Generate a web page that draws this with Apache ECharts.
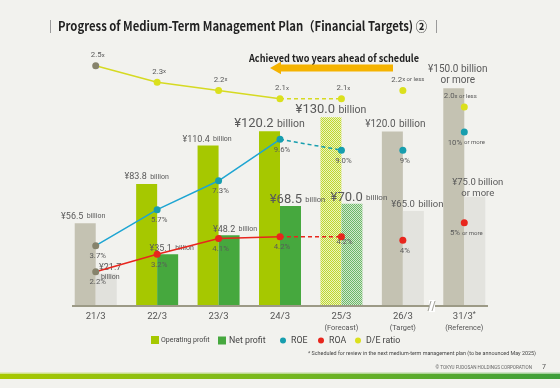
<!DOCTYPE html>
<html><head><meta charset="utf-8">
<script src="https://cdn.jsdelivr.net/npm/echarts@6/dist/echarts.min.js"></script>
<style>html,body{margin:0;padding:0;background:#f2f2ee;}#c{width:560px;height:388px;}</style>
</head><body><div id="c"></div>
<script>
// ---- data ----
const categories = ['21/3', '22/3', '23/3', '24/3', '25/3', '26/3', '31/3'];
const categorySubLabels = ['', '', '', '', '(Forecast)', '(Target)', '(Reference)'];
const operatingProfit = [56.5, 83.8, 110.4, 120.2, 130.0, 120.0, 150.0];
const netProfit = [21.7, 35.1, 48.2, 68.5, 70.0, 65.0, 75.0];
const roe = [3.7, 5.7, 7.3, 9.6, 9.0, 9, 10];
const roa = [2.2, 3.2, 4.1, 4.2, 4.2, 4, 5];
const deRatio = [2.5, 2.3, 2.2, 2.1, 2.1, 2.2, 2.0];
const roeText = ['3.7%', '5.7%', '7.3%', '9.6%', '9.0%', '9%', '10%'];
const roaText = ['2.2%', '3.2%', '4.1%', '4.2%', '4.2%', '4%', '5%'];
const deText = ['2.5', '2.3', '2.2', '2.1', '2.1', '2.2', '2.0'];
const profitSuffix = ['', '', '', '', '', '', 'or more'];
const ratioSuffix = ['', '', '', '', '', '', 'or more'];
const deSuffix = ['', '', '', '', '', 'or less', 'or less'];
const yearType = ['actual0', 'actual', 'actual', 'actual', 'forecast', 'target', 'target'];

// ---- styles ----
const FONT = 'Roboto, "Noto Sans", sans-serif';
const TFONT = '"Noto Sans CJK JP", "Noto Sans", sans-serif';
const LBL = '#5a5a5a';
function checker(c1, c2) {
  const cv = document.createElement('canvas'); cv.width = 2; cv.height = 2;
  const x = cv.getContext('2d'); x.fillStyle = c2; x.fillRect(0, 0, 2, 2);
  x.fillStyle = c1; x.fillRect(0, 0, 1, 1); x.fillRect(1, 1, 1, 1);
  return { image: cv, repeat: 'repeat' };
}
const opColor = { actual0: '#c4c2b2', actual: '#a6c800', forecast: checker('#bfd82e', '#ecf3c0'), target: '#c4c2b2' };
const netColor = { actual0: '#e1e1dc', actual: '#46a83e', forecast: checker('#6cb868', '#d2e8ce'), target: '#e3e3de' };
const opLabelStyle = [
  { big: 9, small: 7, dx: -2, dist: 1 },
  { big: 9, small: 7, dx: 0, dist: 1 },
  { big: 9, small: 7, dx: -1, dist: 0 },
  { big: 13, small: 10.5, dx: 0, dist: 0 },
  { big: 13, small: 10.5, dx: 0, dist: 0 },
  { big: 10, small: 10, dx: 3, dist: 1 },
  { big: 10, small: 10, dx: 4, dist: 2 }
];
const netLabelStyle = [
  { big: 9, small: 7, dx: 4, dist: -8, wrap: true },
  { big: 9, small: 7, dx: 4, dist: 0 },
  { big: 9, small: 7, dx: 6, dist: 0 },
  { big: 13, small: 7.5, dx: 7, dist: -1 },
  { big: 13, small: 8, dx: 7, dist: -1 },
  { big: 9.5, small: 9.5, dx: 4, dist: 0 },
  { big: 9.5, small: 9.5, dx: 3, dist: -2 }
];

function barItems(values, colors, styles) {
  return values.map((v, i) => {
    const st = styles[i];
    const money = '¥' + v.toFixed(1);
    let fmt;
    if (profitSuffix[i]) fmt = '{b|' + money + ' billion}\n{b|' + profitSuffix[i] + '}';
    else if (st.wrap) fmt = '{b|' + money + '}\n{s|billion}';
    else fmt = '{b|' + money + '} {s|billion}';
    return {
      value: v,
      itemStyle: { color: colors[yearType[i]] },
      label: {
        show: true, position: 'top', distance: st.dist, offset: [st.dx, 0],
        formatter: fmt,
        rich: {
          b: { fontSize: st.big, color: LBL, fontFamily: FONT, lineHeight: st.big + 1.5 },
          s: { fontSize: st.small, color: LBL, fontFamily: FONT, lineHeight: st.small + 1.5 }
        }
      }
    };
  });
}

function pointItems(values, texts, suffix, firstColor, unitX, opts) {
  return values.map((v, i) => {
    let fmt = unitX ? texts[i] + '{s|x}' : texts[i];
    if (suffix[i]) fmt += (unitX ? '{s| ' : ' {s|') + suffix[i] + '}';
    const o = (opts && opts[i]) || {};
    const it = { value: v, label: { formatter: fmt, offset: o.offset || [2, 0] } };
    if (i === 0) it.itemStyle = { color: firstColor };
    return it;
  });
}
const partLine = (arr, from, to) => arr.map((v, i) => (i >= from && i <= to ? v : '-'));

const chart = echarts.init(document.getElementById('c'), null, { renderer: 'canvas' });
const ptLabel = (pos) => ({
  show: true, position: pos, distance: 3, color: LBL, fontFamily: FONT, fontSize: 7.8,
  rich: { s: { fontSize: 6, color: LBL, fontFamily: FONT } }
});

const ROE_C = '#179eae', ROE_L = '#1ea5d2', ROA_C = '#e8261d', DE_C = '#dbe01c', DE_L = '#d6da22', GREYPT = '#86836c';

chart.setOption({
  backgroundColor: '#f2f2ee',
  animation: false,
  grid: { left: 65, right: 65, top: 16, bottom: 83, containLabel: false },
  xAxis: {
    type: 'category', data: categories, boundaryGap: true,
    axisLine: { show: false }, axisTick: { show: false },
    axisLabel: {
      margin: 6, interval: 0,
      formatter: (v, i) => {
        let s = '{a|' + v + '}';
        if (i === 6) s += '{sup|*}';
        if (categorySubLabels[i]) s += '\n{b|' + categorySubLabels[i] + '}';
        return s;
      },
      rich: {
        a: { fontSize: 9.5, color: '#555', fontFamily: FONT, lineHeight: 12 },
        sup: { fontSize: 7, color: '#555', fontFamily: FONT, lineHeight: 12, padding: [0, 0, 6, 0] },
        b: { fontSize: 7.4, color: '#555', fontFamily: FONT, lineHeight: 10 }
      }
    }
  },
  yAxis: [
    { type: 'value', min: 0, max: 200, show: false },
    { type: 'value', min: 0.411, max: 16.44, show: false },
    { type: 'value', min: 0.297, max: 16.81, show: false },
    { type: 'value', min: -0.4006, max: 3.102, show: false }
  ],
  legend: [
    { data: [{ name: 'Operating profit', icon: 'rect', itemStyle: { color: '#a6c800' } }], left: 151, top: 336, itemWidth: 8, itemHeight: 8, selectedMode: false, padding: 0, textStyle: { fontSize: 7, color: '#444', fontFamily: FONT, padding: [0, 0, 0, -3] } },
    { data: [{ name: 'Net profit', icon: 'rect', itemStyle: { color: '#46a83e' } }], left: 218, top: 336, itemWidth: 8, itemHeight: 8, selectedMode: false, padding: 0, textStyle: { fontSize: 8.8, color: '#444', fontFamily: FONT, padding: [0, 0, 0, -2] } },
    { data: [{ name: 'ROE', icon: 'circle', itemStyle: { color: ROE_C } }], left: 280, top: 336, itemWidth: 6, itemHeight: 6, selectedMode: false, padding: 0, textStyle: { fontSize: 8.8, color: '#444', fontFamily: FONT } },
    { data: [{ name: 'ROA', icon: 'circle', itemStyle: { color: ROA_C } }], left: 318, top: 336, itemWidth: 6, itemHeight: 6, selectedMode: false, padding: 0, textStyle: { fontSize: 8.8, color: '#444', fontFamily: FONT } },
    { data: [{ name: 'D/E ratio', icon: 'circle', itemStyle: { color: DE_C } }], left: 355, top: 336, itemWidth: 6, itemHeight: 6, selectedMode: false, padding: 0, textStyle: { fontSize: 8.8, color: '#444', fontFamily: FONT } }
  ],
  series: [
    { name: 'Operating profit', type: 'bar', yAxisIndex: 0, barWidth: 21, barGap: '0%', itemStyle: { color: '#a6c800' }, data: barItems(operatingProfit, opColor, opLabelStyle), z: 2 },
    { name: 'Net profit', type: 'bar', yAxisIndex: 0, barWidth: 21, barGap: '0%', itemStyle: { color: '#46a83e' }, data: barItems(netProfit, netColor, netLabelStyle), z: 2 },
    // ROE
    { name: 'ROE', type: 'line', yAxisIndex: 1, data: partLine(roe, 0, 3), showSymbol: false, symbol: 'none', lineStyle: { color: ROE_L, width: 1.5 }, z: 5 },
    { name: 'ROE', type: 'line', yAxisIndex: 1, data: partLine(roe, 3, 4), showSymbol: false, symbol: 'none', lineStyle: { color: ROE_C, width: 1.5, type: [4, 3] }, z: 5 },
    { name: 'ROE', type: 'scatter', yAxisIndex: 1, symbolSize: 7, itemStyle: { color: ROE_C, opacity: 1 }, label: ptLabel('bottom'), data: pointItems(roe, roeText, ratioSuffix, GREYPT, false), z: 6 },
    // ROA
    { name: 'ROA', type: 'line', yAxisIndex: 2, data: partLine(roa, 0, 3), showSymbol: false, symbol: 'none', lineStyle: { color: ROA_C, width: 1.5 }, z: 5 },
    { name: 'ROA', type: 'line', yAxisIndex: 2, data: partLine(roa, 3, 4), showSymbol: false, symbol: 'none', lineStyle: { color: ROA_C, width: 1.5, type: [4, 3] }, z: 5 },
    { name: 'ROA', type: 'scatter', yAxisIndex: 2, symbolSize: 7, itemStyle: { color: ROA_C, opacity: 1 }, label: ptLabel('bottom'), data: pointItems(roa, roaText, ratioSuffix, GREYPT, false, { 4: { offset: [3, -5] } }), z: 6 },
    // D/E
    { name: 'D/E ratio', type: 'line', yAxisIndex: 3, data: partLine(deRatio, 0, 3), showSymbol: false, symbol: 'none', lineStyle: { color: DE_L, width: 1.5 }, z: 5 },
    { name: 'D/E ratio', type: 'line', yAxisIndex: 3, data: partLine(deRatio, 3, 4), showSymbol: false, symbol: 'none', lineStyle: { color: DE_L, width: 1.5, type: [4, 3] }, z: 5 },
    { name: 'D/E ratio', type: 'scatter', yAxisIndex: 3, symbolSize: 7, itemStyle: { color: DE_C, opacity: 1 }, label: ptLabel('top'), data: pointItems(deRatio, deText, deSuffix, GREYPT, true, { 5: { offset: [5, 0] }, 6: { offset: [-4, 0] } }), z: 6 }
  ],
  graphic: [
    { type: 'line', shape: { x1: 50.5, y1: 20, x2: 50.5, y2: 33 }, style: { stroke: '#9a9a9a', lineWidth: 1 } },
    { type: 'line', shape: { x1: 436.5, y1: 20, x2: 436.5, y2: 33 }, style: { stroke: '#9a9a9a', lineWidth: 1 } },
    { type: 'text', x: 58, y: 26.5, scaleX: 0.87, style: { text: 'Progress of Medium-Term Management Plan（Financial Targets) ②', fill: '#222', fontSize: 13, fontWeight: 'bold', fontFamily: TFONT, verticalAlign: 'middle' } },
    { type: 'text', x: 249, y: 58.5, scaleX: 0.87, style: { text: 'Achieved two years ahead of schedule', fill: '#222', fontSize: 10.5, fontWeight: 'bold', fontFamily: TFONT, verticalAlign: 'middle' } },
    { type: 'polygon', shape: { points: [[270, 68], [281, 61.8], [281, 64.5], [393, 64.5], [393, 71.5], [281, 71.5], [281, 74.2]] }, style: { fill: '#f5b300' } },
    { type: 'line', shape: { x1: 72, y1: 306, x2: 488, y2: 306 }, style: { stroke: '#9c9a86', lineWidth: 2 }, z: 10 },
    { type: 'rect', shape: { x: 429, y: 300, width: 6, height: 12 }, style: { fill: '#ffffff' }, z: 11 },
    { type: 'line', shape: { x1: 428, y1: 311, x2: 431, y2: 301 }, style: { stroke: '#8a8a80', lineWidth: 0.8 }, z: 12 },
    { type: 'line', shape: { x1: 432, y1: 311, x2: 435, y2: 301 }, style: { stroke: '#8a8a80', lineWidth: 0.8 }, z: 12 },
    { type: 'text', x: 536, y: 354, style: { text: '* Scheduled for review in the next medium-term management plan (to be announced May 2025)', fill: '#444', fontSize: 5.4, fontFamily: FONT, align: 'right', verticalAlign: 'middle' } },
    { type: 'text', x: 532, y: 368, style: { text: '© TOKYU FUDOSAN HOLDINGS CORPORATION', fill: '#666', fontSize: 4.6, fontFamily: FONT, align: 'right', verticalAlign: 'middle' } },
    { type: 'text', x: 544, y: 367.5, style: { text: '7', fill: '#555', fontSize: 7, fontFamily: FONT, align: 'center', verticalAlign: 'middle' } },
    { type: 'rect', shape: { x: 0, y: 372.5, width: 560, height: 1.5 }, style: { fill: new echarts.graphic.LinearGradient(0, 0, 1, 0, [{ offset: 0, color: '#d4e38a' }, { offset: 1, color: '#a3d09c' }]) } },
    { type: 'rect', shape: { x: 0, y: 374, width: 560, height: 5 }, style: { fill: new echarts.graphic.LinearGradient(0, 0, 1, 0, [{ offset: 0, color: '#a8c800' }, { offset: 0.5, color: '#76b81e' }, { offset: 1, color: '#3d9e3a' }]) } }
  ]
});
</script>
</body></html>
